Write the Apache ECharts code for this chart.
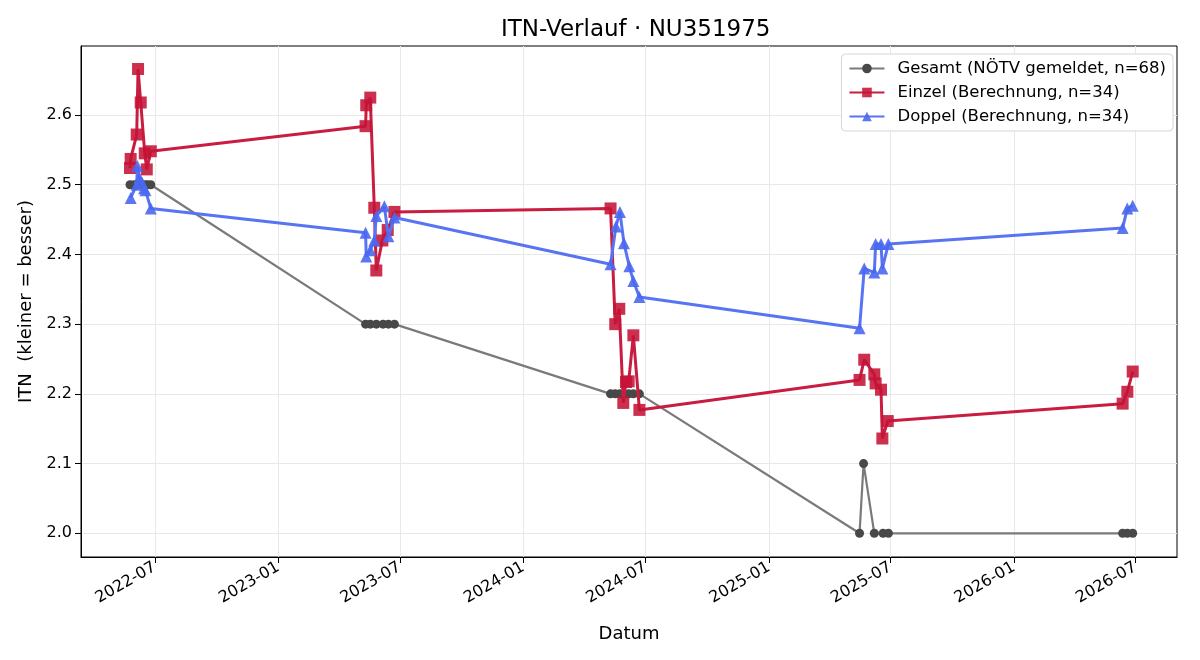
<!DOCTYPE html>
<html>
<head>
<meta charset="utf-8">
<script src="https://cdn.jsdelivr.net/npm/echarts@6/dist/echarts.min.js"></script>
<style>
  html, body { margin: 0; padding: 0; background: #fff; }
  #chart { width: 1200px; height: 660px; }
</style>
</head>
<body>
<div id="chart"></div>
<script>
// Gesamt (NÖTV gemeldet)
const gesamtDates = [
  '2022-05-25', '2022-05-31', '2022-06-05', '2022-06-10', '2022-06-16', '2022-06-20', '2022-06-25',
  '2023-05-11', '2023-05-18', '2023-05-27', '2023-06-06', '2023-06-14', '2023-06-23',
  '2024-05-10', '2024-05-17', '2024-05-24', '2024-05-30', '2024-06-06', '2024-06-13', '2024-06-22',
  '2025-05-16', '2025-05-22', '2025-06-07', '2025-06-20', '2025-06-28',
  '2026-06-12', '2026-06-19', '2026-06-27'
];
const gesamtValues = [
  2.5, 2.5, 2.5, 2.5, 2.5, 2.5, 2.5,
  2.3, 2.3, 2.3, 2.3, 2.3, 2.3,
  2.2, 2.2, 2.2, 2.2, 2.2, 2.2, 2.2,
  2.0, 2.1, 2.0, 2.0, 2.0,
  2.0, 2.0, 2.0
];

// Einzel (Berechnung)
const einzelDates = [
  '2022-05-25', '2022-05-26', '2022-06-04', '2022-06-06', '2022-06-10', '2022-06-16', '2022-06-19', '2022-06-25',
  '2023-05-11', '2023-05-12', '2023-05-18', '2023-05-24', '2023-05-27', '2023-06-05', '2023-06-13', '2023-06-23',
  '2024-05-10', '2024-05-17', '2024-05-23', '2024-05-29', '2024-06-02', '2024-06-06', '2024-06-13', '2024-06-22',
  '2025-05-16', '2025-05-23', '2025-06-07', '2025-06-09', '2025-06-17', '2025-06-19', '2025-06-27',
  '2026-06-12', '2026-06-19', '2026-06-27'
];
const einzelValues = [
  2.524, 2.537, 2.572, 2.666, 2.618, 2.545, 2.522, 2.548,
  2.584, 2.614, 2.625, 2.467, 2.377, 2.420, 2.435, 2.461,
  2.466, 2.300, 2.322, 2.187, 2.217, 2.218, 2.284, 2.177,
  2.220, 2.249, 2.228, 2.215, 2.206, 2.136, 2.161,
  2.186, 2.203, 2.232
];

// Doppel (Berechnung)
const doppelDates = [
  '2022-05-26', '2022-06-04', '2022-06-05', '2022-06-08', '2022-06-12', '2022-06-15', '2022-06-17', '2022-06-25',
  '2023-05-11', '2023-05-12', '2023-05-18', '2023-05-24', '2023-05-27', '2023-06-08', '2023-06-14', '2023-06-23',
  '2024-05-10', '2024-05-18', '2024-05-24', '2024-05-30', '2024-06-07', '2024-06-13', '2024-06-22',
  '2025-05-16', '2025-05-23', '2025-06-07', '2025-06-09', '2025-06-17', '2025-06-19', '2025-06-28',
  '2026-06-12', '2026-06-19', '2026-06-27'
];
const doppelValues = [
  2.481, 2.500, 2.527, 2.510, 2.503, 2.495, 2.492, 2.466,
  2.431, 2.397, 2.406, 2.420, 2.455, 2.469, 2.426, 2.453,
  2.386, 2.440, 2.461, 2.416, 2.383, 2.362, 2.339,
  2.294, 2.380, 2.374, 2.415, 2.415, 2.380, 2.415,
  2.438, 2.466, 2.470
];

const xTicks = ['2022-07-01', '2023-01-01', '2023-07-01', '2024-01-01', '2024-07-01', '2025-01-01', '2025-07-01', '2026-01-01', '2026-07-01'];
const yTicks = [2.0, 2.1, 2.2, 2.3, 2.4, 2.5, 2.6];

const toTs = s => new Date(s + 'T00:00:00').getTime();
const pairs = (dates, values) => dates.map((d, i) => [toTs(d), values[i]]);
const fmtMonth = v => {
  const d = new Date(v);
  return d.getFullYear() + '-' + String(d.getMonth() + 1).padStart(2, '0');
};

const font = 'DejaVu Sans';
const chart = echarts.init(document.getElementById('chart'));

const option = {
  backgroundColor: '#fff',
  animation: false,
  textStyle: { fontFamily: font },
  title: {
    text: 'ITN-Verlauf · NU351975',
    left: 496, // centred over the plot area, not the page
    top: 14,
    textStyle: { fontFamily: font, fontSize: 23, fontWeight: 'normal', color: '#000' }
  },
  legend: {
    orient: 'vertical',
    right: 27,
    top: 54,
    backgroundColor: '#fff',
    borderColor: '#d6d6d6',
    borderWidth: 1,
    borderRadius: 4,
    padding: [6, 7, 6, 7],
    itemGap: 7,
    itemWidth: 35,
    itemHeight: 12,
    textStyle: { fontFamily: font, fontSize: 16.5, color: '#000', padding: [0, 0, 0, 8] }
  },
  grid: {
    left: 81, right: 23, top: 46, bottom: 103,
    show: true, borderColor: '#000', borderWidth: 1
  },
  xAxis: {
    type: 'value',
    min: toTs('2022-03-13'),
    max: toTs('2026-09-01'),
    name: 'Datum',
    nameLocation: 'middle',
    nameGap: 68,
    nameTextStyle: { fontFamily: font, fontSize: 18, color: '#000' },
    axisLine: { lineStyle: { color: '#000' } },
    axisTick: { show: true, length: 6, lineStyle: { color: '#000' }, customValues: xTicks.map(toTs) },
    axisLabel: {
      rotate: 30, fontFamily: font, fontSize: 16, color: '#000', margin: 9,
      customValues: xTicks.map(toTs),
      formatter: v => fmtMonth(v)
    },
    splitLine: { show: true, lineStyle: { color: '#e8e8e8' } }
  },
  yAxis: {
    type: 'value',
    min: 1.966,
    max: 2.699,
    name: 'ITN  (kleiner = besser)',
    nameLocation: 'middle',
    nameGap: 46,
    nameTextStyle: { fontFamily: font, fontSize: 18, color: '#000' },
    axisLine: { show: true, lineStyle: { color: '#000' } },
    axisTick: { show: true, length: 6, lineStyle: { color: '#000' }, customValues: yTicks },
    axisLabel: {
      fontFamily: font, fontSize: 16, color: '#000', margin: 9,
      customValues: yTicks,
      formatter: v => v.toFixed(1)
    },
    splitLine: { show: true, lineStyle: { color: '#e8e8e8' } }
  },
  series: [
    {
      name: 'Gesamt (NÖTV gemeldet, n=68)',
      type: 'line',
      data: pairs(gesamtDates, gesamtValues),
      symbol: 'circle',
      symbolSize: 9,
      lineStyle: { color: '#7a7a7a', width: 2.2 },
      itemStyle: { color: '#484848' },
      z: 2
    },
    {
      name: 'Einzel (Berechnung, n=34)',
      type: 'line',
      data: pairs(einzelDates, einzelValues),
      symbol: 'rect',
      symbolSize: 12,
      lineStyle: { color: '#c91d40', width: 3 },
      itemStyle: { color: '#c51337', opacity: 0.88 },
      z: 3
    },
    {
      name: 'Doppel (Berechnung, n=34)',
      type: 'line',
      data: pairs(doppelDates, doppelValues),
      symbol: 'triangle',
      symbolSize: 12,
      lineStyle: { color: '#5874f2', width: 3 },
      itemStyle: { color: '#4a68f0', opacity: 0.9 },
      z: 4
    }
  ]
};

chart.setOption(option);
window.addEventListener('resize', () => chart.resize());
</script>
</body>
</html>
